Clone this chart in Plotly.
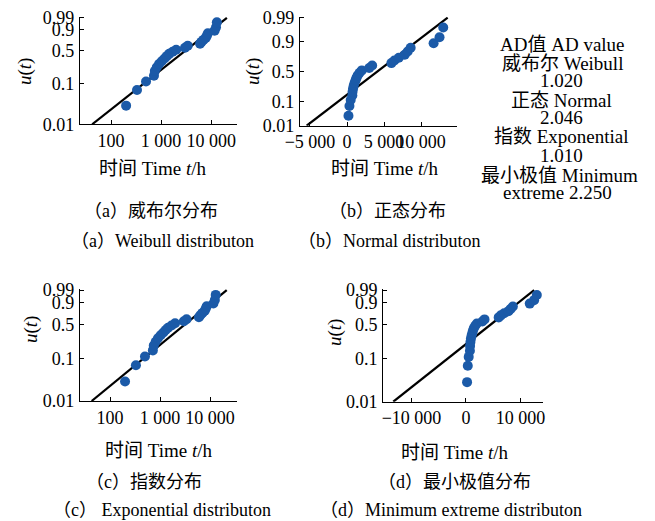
import numpy as np
import plotly.graph_objects as go
from statistics import NormalDist

# ---------------- data ----------------
fail_times = [200, 330, 500, 720, 750, 820, 910, 1030, 1170, 1300, 1450, 1700,
              2000, 3000, 3400, 6000, 6400, 7000, 7800, 8200, 8600, 11700, 12500, 13000]
fail_probs = [0.029, 0.070, 0.111, 0.152, 0.193, 0.234, 0.275, 0.316, 0.357, 0.398,
              0.439, 0.480, 0.521, 0.562, 0.603, 0.643, 0.684, 0.725, 0.766, 0.807,
              0.848, 0.889, 0.930, 0.971]

# fitted-distribution reference lines (end points)
weib_line_t = [42, 20600]
weib_line_p = [0.01, 0.99]
norm_line_t = [-5450, 13600]
norm_line_p = [0.01, 0.99]
expo_line_t = [43, 21600]
expo_line_p = [0.01, 0.99]
sev_line_t = [-13340, 12500]
sev_line_p = [0.01, 0.99]

prob_ticks = [0.01, 0.1, 0.5, 0.9, 0.99]
prob_tick_text = ["0.01", "0.1", "0.5", "0.9", "0.99"]
log_ticks = [100, 1000, 10000]
log_tick_text = ["100", "1 000", "10 000"]
norm_ticks = [-5000, 0, 5000, 10000]
norm_tick_text = ["\u22125 000", "0", "5 000", "10 000"]
sev_ticks = [-10000, 0, 10000]
sev_tick_text = ["\u221210 000", "0", "10 000"]

ad_lines = ["AD值 AD value", "威布尔 Weibull", "1.020", "正态 Normal", "2.046",
            "指数 Exponential", "1.010", "最小极值 Minimum", "extreme 2.250"]

# ---------------- helpers ----------------
W, H = 655, 521
ND = NormalDist()


def gumb(p):
    p = np.asarray(p, dtype=float)
    return np.log(-np.log(1 - p))


def zval(p):
    return [ND.inv_cdf(v) for v in p]


def px(x):
    return x / W


def py(y):
    return 1 - y / H


BLUE = "#1b5aa8"
SERIF = "Liberation Serif, 'Noto Sans CJK SC', serif"

fig = go.Figure()

panels = [
    ("", fail_times, gumb, weib_line_t, weib_line_p),
    ("2", fail_times, zval, norm_line_t, norm_line_p),
    ("3", fail_times, gumb, expo_line_t, expo_line_p),
    ("4", fail_times, gumb, sev_line_t, sev_line_p),
]

for suf, xt, tf, lt, lp in panels:
    fig.add_trace(go.Scatter(x=lt, y=list(tf(lp)), mode="lines",
                             line=dict(color="black", width=2.2),
                             xaxis="x" + suf, yaxis="y" + suf, showlegend=False))
    fig.add_trace(go.Scatter(x=xt, y=list(tf(fail_probs)), mode="markers",
                             marker=dict(color=BLUE, size=10),
                             xaxis="x" + suf, yaxis="y" + suf, showlegend=False))

common_axis = dict(showline=True, linecolor="black", linewidth=1.3, ticks="inside",
                   ticklen=4, tickwidth=1, tickcolor="black", showgrid=False,
                   zeroline=False, tickfont=dict(family=SERIF, size=18, color="black"),
                   mirror=False, automargin=False, tickangle=0)

gy_ticks = list(gumb(prob_ticks))
nz_ticks = zval(prob_ticks)

layout_axes = {
    "xaxis": dict(common_axis, type="log", range=[1.38, 4.51], tickvals=log_ticks,
                  ticktext=log_tick_text, domain=[px(80), px(236.7)], anchor="y"),
    "yaxis": dict(common_axis, range=[-4.6, 1.59], tickvals=gy_ticks, ticktext=prob_tick_text,
                  domain=[py(124.3), py(16.7)], anchor="x", ticklabelstandoff=1),
    "xaxis2": dict(common_axis, range=[-6350, 14820], tickvals=norm_ticks,
                   ticktext=norm_tick_text, domain=[px(300), px(456.7)], anchor="y2"),
    "yaxis2": dict(common_axis, range=[-2.326, 2.37], tickvals=nz_ticks, ticktext=prob_tick_text,
                   domain=[py(125.7), py(16.5)], anchor="x2", ticklabelstandoff=1),
    "xaxis3": dict(common_axis, type="log", range=[1.4, 4.534], tickvals=log_ticks,
                   ticktext=log_tick_text, domain=[px(80), px(236.7)], anchor="y3"),
    "yaxis3": dict(common_axis, range=[-4.6, 1.59], tickvals=gy_ticks, ticktext=prob_tick_text,
                   domain=[py(401), py(289)], anchor="x3", ticklabelstandoff=1),
    "xaxis4": dict(common_axis, range=[-15170, 14130], tickvals=sev_ticks,
                   ticktext=sev_tick_text, domain=[px(383.3), px(543)], anchor="y4"),
    "yaxis4": dict(common_axis, range=[-4.6, 1.59], tickvals=gy_ticks, ticktext=prob_tick_text,
                   domain=[py(401.7), py(289)], anchor="x4", ticklabelstandoff=1),
}

ann = []


def add_text(text, x, y, size=19, angle=0):
    ann.append(dict(text=text, x=px(x), y=py(y), xref="paper", yref="paper",
                    xanchor="center", yanchor="middle", showarrow=False, textangle=angle,
                    font=dict(family=SERIF, size=size, color="black")))


ut = "<i>u</i>(<i>t</i>)"
add_text(ut, 25, 72, 19, -90)
add_text(ut, 253, 72, 19, -90)
add_text(ut, 31, 330, 19, -90)
add_text(ut, 335, 333, 19, -90)

xt_title = "时间 Time <i>t</i>/h"
add_text(xt_title, 152, 168)
add_text(xt_title, 384, 168)
add_text(xt_title, 158, 450)
add_text(xt_title, 454, 452)

ad_y = [45, 63, 81, 100, 117, 137, 155, 175, 192]
ad_x = [562, 562, 561, 561, 561, 561, 561, 559, 557]
for t, xx, yy in zip(ad_lines, ad_x, ad_y):
    add_text(t, xx, yy, 19)

add_text("（a）威布尔分布", 151, 211, 18)
add_text("（a）Weibull distributon", 162, 241, 18)
add_text("（b）正态分布", 387, 211, 18)
add_text("（b）Normal distributon", 389, 241, 18)
add_text("（c）指数分布", 144, 482, 18)
add_text("（c） Exponential distributon", 162, 510, 18)
add_text("（d）最小极值分布", 454, 482, 18)
add_text("（d）Minimum extreme distributon", 451, 510, 18)

fig.update_layout(template="none", width=W, height=H, margin=dict(l=0, r=0, t=0, b=0, pad=0),
                  paper_bgcolor="white", plot_bgcolor="white",
                  annotations=ann, showlegend=False, **layout_axes)

fig.write_html("out.html", config={"displayModeBar": False},
               post_script="document.body.style.margin='0px';document.body.style.overflow='hidden';")
